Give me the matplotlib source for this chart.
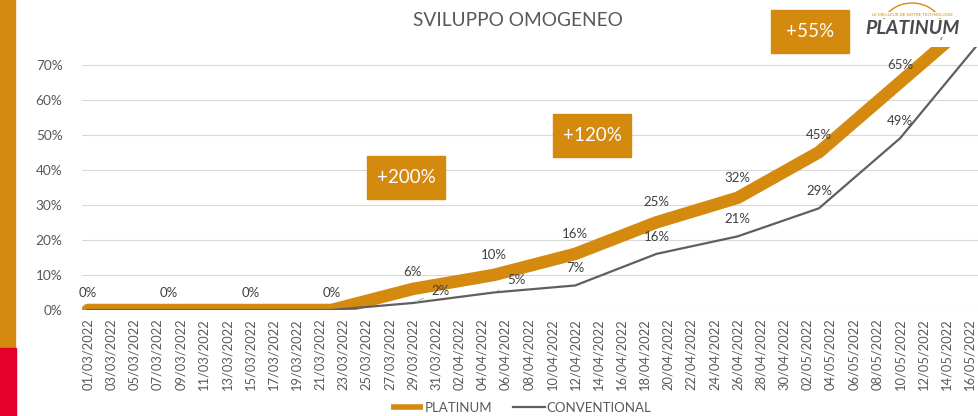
import pandas as pd
import matplotlib
matplotlib.use('Agg')
from matplotlib import pyplot as plt
from matplotlib.patches import Rectangle, Arc
from matplotlib.lines import Line2D

plt.rcParams['font.family'] = ['Lato', 'DejaVu Sans']

# dati (settimanali)
dates = pd.to_datetime(['2022-03-01', '2022-03-08', '2022-03-15', '2022-03-22',
                        '2022-03-29', '2022-04-05', '2022-04-12', '2022-04-19',
                        '2022-04-26', '2022-05-03', '2022-05-10', '2022-05-17'])
platinum = [0, 0, 0, 0, 6, 10, 16, 25, 32, 45, 65, 85]
conventional = [0, 0, 0, 0, 2, 5, 7, 16, 21, 29, 49, 77]
plat_labels = ['0%', '0%', '0%', '0%', '6%', '10%', '16%', '25%', '32%', '45%', '65%', '']
conv_labels = ['', '', '', '', '2%', '5%', '7%', '16%', '21%', '29%', '49%', '']
boxes = ['+200%', '+120%', '+55%']

ORANGE = '#D4890F'
GREY = '#5f5f5f'
TXT = '#595959'

W, H = 979, 416
fig = plt.figure(figsize=(W / 100, H / 100), dpi=100)
ax = fig.add_axes([82 / W, 1 - 310 / H, 1 - 82 / W, (310 - 47) / H])

ax.plot(dates, platinum, color=ORANGE, lw=9, solid_capstyle='round',
        solid_joinstyle='round', zorder=3)
ax.plot(dates, conventional, color=GREY, lw=1.6, zorder=3)

# etichette
for d, v, s in zip(dates, platinum, plat_labels):
    if s:
        off = 17 if v < 8 or v > 40 else 20
        ax.annotate(s, (d, v), xytext=(0, off), textcoords='offset pixels',
                    ha='center', va='center', fontsize=9.5, color='#404040', zorder=4)
for d, v, s in zip(dates, conventional, conv_labels):
    if not s:
        continue
    if v in (2, 5):
        ax.annotate(s, (d, v), xytext=(28 if v == 2 else 22, 12), textcoords='offset pixels',
                    ha='center', va='center', fontsize=9.5, color='#404040', zorder=4,
                    arrowprops=dict(arrowstyle='-', color='#bfbfbf', lw=0.8,
                                    shrinkA=4, shrinkB=3))
    else:
        ax.annotate(s, (d, v), xytext=(0, 17), textcoords='offset pixels',
                    ha='center', va='center', fontsize=9.5, color='#404040', zorder=4)

start = pd.Timestamp('2022-03-01')
ax.set_xlim(start - pd.Timedelta(hours=12), pd.Timestamp('2022-05-16') + pd.Timedelta(hours=19))
ax.set_ylim(0, 75)
ticks = pd.date_range('2022-03-01', '2022-05-16', freq='2D')
ax.set_xticks(ticks)
ax.set_xticklabels([t.strftime('%d/%m/%Y') for t in ticks], rotation=90,
                   fontsize=9.3, color=TXT)
ax.set_yticks(range(0, 71, 10))
ax.set_yticklabels([f'{v}%' for v in range(0, 71, 10)], fontsize=9.8, color=TXT)
ax.tick_params(length=0, pad=6)
ax.tick_params(axis='y', pad=14)
ax.grid(axis='y', color='#d9d9d9', lw=0.8)
ax.set_axisbelow(True)
for sp in ax.spines.values():
    sp.set_visible(False)

# titolo
fig.text(518 / W, 1 - 20 / H, 'SVILUPPO OMOGENEO', ha='center', va='center',
         fontsize=13.8, color=TXT)

# riquadri
box_pos = [(367, 156), (553, 114), (771, 10)]
for (x0, y0), s in zip(box_pos, boxes):
    fig.add_artist(Rectangle((x0 / W, 1 - (y0 + 43) / H), 78 / W, 43 / H,
                             transform=fig.transFigure, color=ORANGE, zorder=5))
    fig.text((x0 + 39) / W, 1 - (y0 + 21.5) / H, s, ha='center', va='center',
             fontsize=13.5, color='white', zorder=6)

# logo
fig.add_artist(Arc((912 / W, 1 - 30 / H), 62 / W, 54 / H, theta1=-40, theta2=200,
                   transform=fig.transFigure, color=ORANGE, lw=1, zorder=6))
fig.text(912 / W, 1 - 15 / H, 'LE MEILLEUR DE NOTRE TECHNOLOGIE', ha='center',
         va='center', fontsize=3.2, color=ORANGE, zorder=7,
         bbox=dict(fc='white', ec='none', pad=0.6))
fig.text(912 / W, 1 - 28 / H, 'PLATINUM', ha='center', va='center', fontsize=14,
         fontweight='bold', fontstyle='italic', color='#4a4a4a', zorder=7,
         bbox=dict(fc='white', ec='none', pad=0.3))

# barra laterale
fig.add_artist(Rectangle((0, 1 - 348 / H), 15 / W, 348 / H, transform=fig.transFigure,
                         color=ORANGE, zorder=5))
fig.add_artist(Rectangle((0, 0), 16 / W, (H - 348) / H, transform=fig.transFigure,
                         color='#E4002B', zorder=5))

handles = [Line2D([], [], color=ORANGE, lw=4, solid_capstyle='butt'),
           Line2D([], [], color=GREY, lw=1.6)]
fig.legend(handles, ['PLATINUM', 'CONVENTIONAL'], loc='center',
           bbox_to_anchor=(521 / W, 1 - 408 / H), ncol=2, frameon=False,
           fontsize=9.5, labelcolor=TXT, handlelength=2.4, columnspacing=1.6,
           handletextpad=0.1)

fig.savefig('out.png', dpi=100)
